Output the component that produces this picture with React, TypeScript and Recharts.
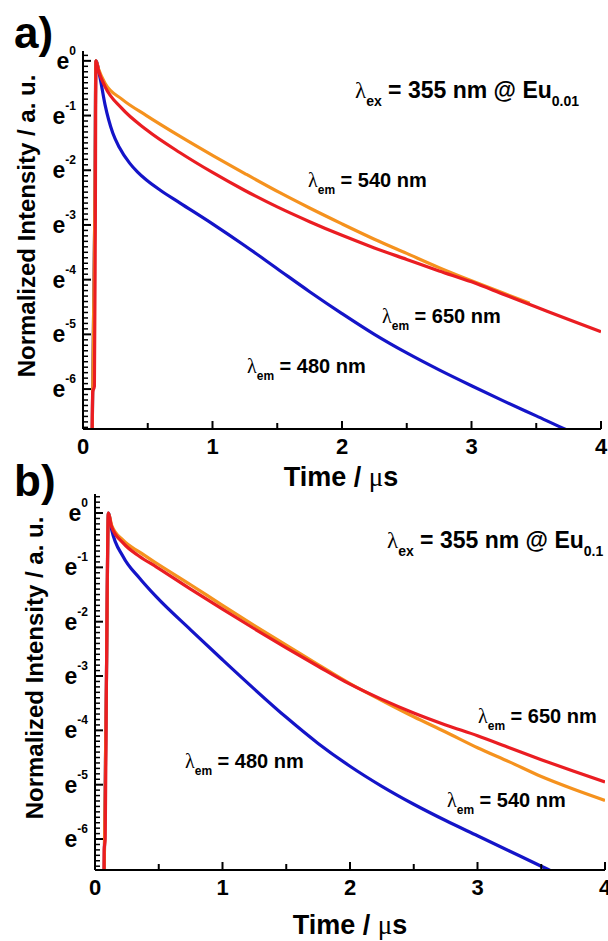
import { LineChart, Line, XAxis, YAxis } from "recharts";

// decay curves, [time in µs, ln(normalized intensity)]
const orangeA: [number, number][] = [
  [0.07, -7], [0.09, -3], [0.1, 0], [0.12, -0.15], [0.17, -0.41], [0.3, -0.7], [0.49, -1.0],
  [0.75, -1.38], [1.01, -1.74], [1.25, -2.06], [1.52, -2.41], [1.75, -2.69], [2.0, -2.98],
  [2.25, -3.26], [2.5, -3.52], [2.75, -3.78], [3.0, -4.02], [3.25, -4.25], [3.45, -4.43],
];
const redA: [number, number][] = [
  [0.07, -7], [0.075, -6.05], [0.088, -5.95], [0.095, -3], [0.1, 0], [0.12, -0.18], [0.17, -0.47],
  [0.3, -0.87], [0.49, -1.26], [0.75, -1.68], [1.0, -2.04], [1.25, -2.37], [1.5, -2.67],
  [1.75, -2.94], [2.0, -3.19], [2.25, -3.42], [2.5, -3.63], [2.75, -3.84], [3.0, -4.04],
  [3.25, -4.27], [3.5, -4.5], [3.75, -4.73], [4.0, -4.95],
];
const blueA: [number, number][] = [
  [0.07, -7], [0.09, -3], [0.1, 0], [0.13, -0.29], [0.17, -0.8], [0.23, -1.32], [0.28, -1.58],
  [0.36, -1.87], [0.42, -2.03], [0.49, -2.18], [0.6, -2.37], [0.75, -2.6], [1.0, -2.98],
  [1.25, -3.38], [1.5, -3.8], [1.75, -4.22], [2.0, -4.62], [2.25, -5.0], [2.5, -5.34],
  [2.75, -5.65], [3.0, -5.94], [3.25, -6.22], [3.5, -6.49], [3.75, -6.76], [3.9, -6.9],
];

const orangeB: [number, number][] = [
  [0.07, -7], [0.09, -3], [0.105, 0], [0.13, -0.22], [0.22, -0.5], [0.35, -0.72], [0.48, -0.92],
  [0.75, -1.32], [1.0, -1.7], [1.25, -2.07], [1.5, -2.43], [1.75, -2.79], [2.0, -3.14],
  [2.25, -3.45], [2.5, -3.75], [2.75, -4.03], [3.0, -4.32], [3.25, -4.58], [3.5, -4.85],
  [3.75, -5.08], [4.0, -5.29],
];
const redB: [number, number][] = [
  [0.07, -7], [0.072, -6.2], [0.08, -6.0], [0.09, -3], [0.105, 0], [0.13, -0.25], [0.22, -0.55],
  [0.35, -0.8], [0.48, -0.99], [0.75, -1.4], [1.0, -1.77], [1.25, -2.13], [1.5, -2.48],
  [1.75, -2.82], [2.0, -3.15], [2.25, -3.43], [2.5, -3.68], [2.75, -3.9], [3.0, -4.1],
  [3.25, -4.32], [3.5, -4.54], [3.75, -4.75], [4.0, -4.95],
];
const blueB: [number, number][] = [
  [0.07, -7], [0.09, -3], [0.105, 0], [0.13, -0.3], [0.22, -0.8], [0.35, -1.2], [0.48, -1.54],
  [0.75, -2.15], [1.0, -2.7], [1.25, -3.24], [1.5, -3.76], [1.75, -4.24], [2.0, -4.66],
  [2.25, -5.03], [2.5, -5.36], [2.75, -5.66], [3.0, -5.94], [3.25, -6.22], [3.5, -6.5],
  [3.7, -6.73], [3.8, -6.85],
];

const xMajor = [0, 1, 2, 3, 4];
const xTicks = [0, 0.5, 1, 1.5, 2, 2.5, 3, 3.5, 4];
const yMajor = [0, -1, -2, -3, -4, -5, -6];
const minorSteps = [0.1, 0.2, 0.3, 0.4, 0.5, 0.6, 0.7, 0.8, 0.9];

const ORANGE = "#F5921E";
const RED = "#EA1D22";
const BLUE = "#1414C8";
const FONT = "'Liberation Sans', Arial, sans-serif";
const SYM = "'Liberation Serif', 'DejaVu Serif', serif";

const pts = (a: [number, number][]) => a.map(([t, v]) => ({ t, v }));

const buildYTicks = (lo: number, hi: number) => {
  const all: number[] = [];
  [1, ...yMajor].forEach((m) => {
    if (m <= hi && m >= lo) all.push(m);
    minorSteps.forEach((s) => {
      const v = +(m - s).toFixed(2);
      if (v >= lo && v <= hi) all.push(v);
    });
  });
  return all.sort((a, b) => b - a);
};

const isMajor = (v: number) => Math.abs(v - Math.round(v)) < 1e-6;

const YTick = (props: any) => {
  const { x, y, payload } = props;
  const v = payload.value;
  const major = isMajor(v);
  const n = Math.round(v);
  return (
    <g>
      <line x1={x} x2={x + (major ? 8 : 5)} y1={y} y2={y} stroke="#000" strokeWidth={major ? 2 : 1.5} />
      {major && (
        <text x={x - 7} y={y + 8} textAnchor="end" fontFamily={FONT} fontWeight="bold" fill="#000">
          <tspan fontSize={23}>e</tspan>
          <tspan fontSize={12} dy={-14}>{n === 0 ? "0" : `-${-n}`}</tspan>
        </text>
      )}
    </g>
  );
};

const XTick = (props: any) => {
  const { x, y, payload } = props;
  const v = payload.value;
  const major = xMajor.includes(v);
  return (
    <g>
      <line x1={x} x2={x} y1={y} y2={y - (major ? 8 : 6)} stroke="#000" strokeWidth={2} />
      {major && (
        <text x={x} y={y + 25} textAnchor="middle" fontFamily={FONT} fontWeight="bold" fontSize={22} fill="#000">
          {v}
        </text>
      )}
    </g>
  );
};

const Decay = ({ width, height, margin, yWidth, domain, orange, red, blue }: any) => {
  const ticks = buildYTicks(domain[0], domain[1]);
  return (
    <LineChart width={width} height={height} margin={margin}>
      <XAxis
        xAxisId="b" type="number" dataKey="t" domain={[0, 4]} ticks={xTicks} interval={0}
        tick={<XTick />} tickSize={0} tickMargin={0} tickLine={false} height={30}
        axisLine={{ stroke: "#000", strokeWidth: 2 }} allowDataOverflow
      />
      <XAxis xAxisId="t" orientation="top" type="number" domain={[0, 4]} height={0} tick={false} tickLine={false}
        axisLine={{ stroke: "#000", strokeWidth: 2 }} />
      <YAxis
        yAxisId="l" type="number" dataKey="v" domain={domain} ticks={ticks} interval={0}
        tick={<YTick />} tickSize={0} tickMargin={0} tickLine={false} width={yWidth}
        axisLine={{ stroke: "#000", strokeWidth: 2 }} allowDataOverflow
      />
      <YAxis yAxisId="r" orientation="right" type="number" domain={[0, 1]} width={0} tick={false} tickLine={false}
        axisLine={{ stroke: "#000", strokeWidth: 2 }} />
      <Line xAxisId="b" yAxisId="l" data={pts(blue)} dataKey="v" stroke={BLUE} strokeWidth={3.2} dot={false} type="monotone" isAnimationActive={false} />
      <Line xAxisId="b" yAxisId="l" data={pts(orange)} dataKey="v" stroke={ORANGE} strokeWidth={3.2} dot={false} type="monotone" isAnimationActive={false} />
      <Line xAxisId="b" yAxisId="l" data={pts(red)} dataKey="v" stroke={RED} strokeWidth={3.2} dot={false} type="monotone" isAnimationActive={false} />
    </LineChart>
  );
};

const Lam = ({ x, y, sub, rest, size, subSize, tail }: any) => (
  <text x={x} y={y} fontFamily={FONT} fontWeight="bold" fontSize={size} fill="#000">
    <tspan fontFamily={SYM} fontWeight="normal">λ</tspan>
    <tspan fontSize={subSize} dy={subSize * 0.6}>{sub}</tspan>
    <tspan dy={-subSize * 0.6}>{rest}</tspan>
    {tail && <tspan fontSize={subSize} dy={subSize * 0.6}>{tail}</tspan>}
  </text>
);

const Title = ({ x, y }: any) => (
  <text x={x} y={y} textAnchor="middle" fontFamily={FONT} fontWeight="bold" fontSize={27} fill="#000">
    Time / <tspan fontFamily={SYM} fontWeight="normal">μ</tspan>s
  </text>
);

const YTitle = ({ x, y }: any) => (
  <text x={x} y={y} transform={`rotate(-90 ${x} ${y})`} textAnchor="middle" fontFamily={FONT} fontWeight="bold" fontSize={24} fill="#000">
    Normalized Intensity / a. u.
  </text>
);

export default function App() {
  return (
    <div style={{ position: "absolute", left: 0, top: 0, width: 608, height: 941, background: "#fff" }}>
      <div style={{ position: "absolute", left: 0, top: 0 }}>
        <Decay width={608} height={470} margin={{ top: 51, right: 7, bottom: 11, left: 0 }} yWidth={83}
          domain={[-6.73, 0.18]} orange={orangeA} red={redA} blue={blueA} />
      </div>
      <div style={{ position: "absolute", left: 0, top: 470 }}>
        <Decay width={608} height={471} margin={{ top: 24, right: 3, bottom: 41, left: 0 }} yWidth={95}
          domain={[-6.57, 0.35]} orange={orangeB} red={redB} blue={blueB} />
      </div>
      <svg width={608} height={941} style={{ position: "absolute", left: 0, top: 0, pointerEvents: "none" }}>
        <text x={14} y={48} fontFamily={FONT} fontWeight="bold" fontSize={44} fill="#000">a)</text>
        <text x={14} y={496} fontFamily={FONT} fontWeight="bold" fontSize={44} fill="#000">b)</text>
        <YTitle x={35} y={226} />
        <YTitle x={43} y={668} />
        <Title x={341} y={486} />
        <Title x={350} y={934} />
        <Lam x={355} y={98} sub="ex" rest=" = 355 nm @ Eu" tail="0.01" size={23} subSize={14} />
        <Lam x={308} y={187} sub="em" rest=" = 540 nm" size={20} subSize={12} />
        <Lam x={382} y={323} sub="em" rest=" = 650 nm" size={20} subSize={12} />
        <Lam x={247} y={373} sub="em" rest=" = 480 nm" size={20} subSize={12} />
        <Lam x={387} y={548} sub="ex" rest=" = 355 nm @ Eu" tail="0.1" size={23} subSize={14} />
        <Lam x={478} y={723} sub="em" rest=" = 650 nm" size={20} subSize={12} />
        <Lam x={447} y={807} sub="em" rest=" = 540 nm" size={20} subSize={12} />
        <Lam x={185} y={768} sub="em" rest=" = 480 nm" size={20} subSize={12} />
      </svg>
    </div>
  );
}
